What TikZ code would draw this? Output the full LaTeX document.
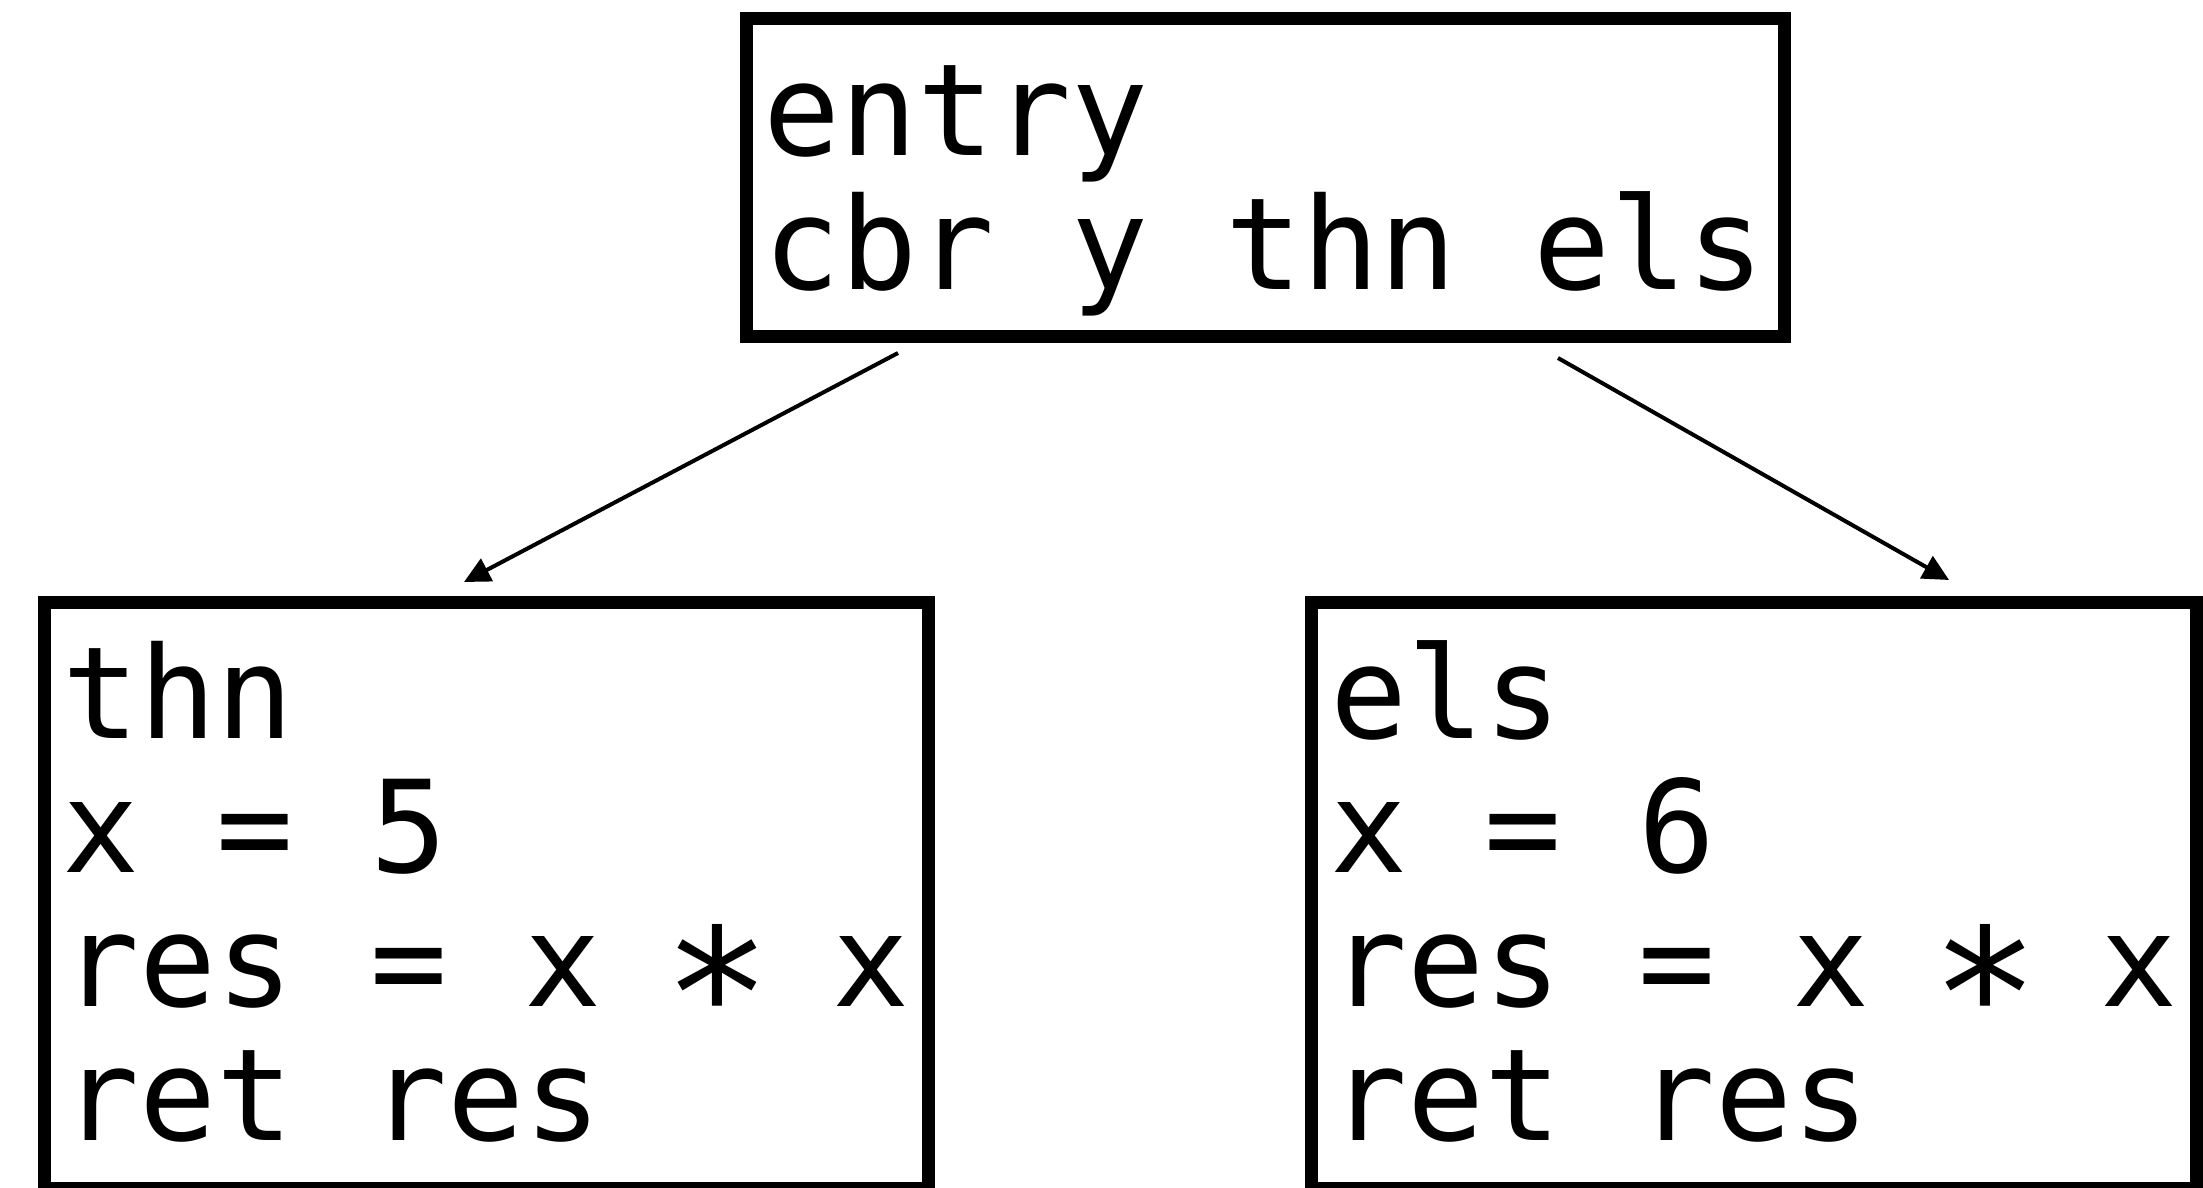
\documentclass[tikz,border=0pt]{standalone}
\usepackage{fontspec}
\usepackage{graphicx}
\newfontfamily\codefont{DejaVu Sans Mono}
\newcommand\bigstarop{\makebox[77.06pt][c]{\raisebox{-15pt}{\scalebox{1.4}{∗}}}}
\usetikzlibrary{arrows.meta,calc}
\begin{document}
\begin{tikzpicture}[x=1pt,y=-1pt,
  block/.style={draw=black,line width=13pt,rectangle,inner sep=0pt,outer sep=0pt},
  codeline/.style={anchor=base west,inner sep=0pt,outer sep=0pt,font={\codefont\fontsize{128pt}{134pt}\selectfont}},
  edge/.style={draw=black,line width=4pt,-{Triangle[length=26pt,width=25pt]}}]
\useasboundingbox (0,0) rectangle (2203,1187);
% boxes
\node[block,minimum width=1038pt,minimum height=318pt] (entry) at (1265,177) {};
\node[block,minimum width=884pt,minimum height=586pt] (thn) at (486,895) {};
\node[block,minimum width=885pt,minimum height=586pt] (els) at (1753.5,895) {};
% texts
\node[codeline] (e1) at (763,155) {entry};
\node[codeline] (e2) at (763,289) {cbr y thn els};
\node[codeline] (t1) at (62,738) {thn};
\node[codeline] (t2) at (62,872) {x = 5};
\node[codeline] (t3) at (62,1006) {res = x \bigstarop{} x};
\node[codeline] (t4) at (62,1140) {ret res};
\node[codeline] (l1) at (1330,738) {els};
\node[codeline] (l2) at (1330,872) {x = 6};
\node[codeline] (l3) at (1330,1006) {res = x \bigstarop{} x};
\node[codeline] (l4) at (1330,1140) {ret res};
% connectors
\coordinate (s1) at ($(entry.south west)+(152,17)$);
\coordinate (s2) at ($(entry.south east)+(-226,22)$);
\coordinate (d1) at ($(thn.north west)+(420,-20)$);
\coordinate (d2) at ($(els.north west)+(638,-22)$);
\draw[edge] (s1) -- (d1);
\draw[edge] (s2) -- (d2);
\end{tikzpicture}
\end{document}
